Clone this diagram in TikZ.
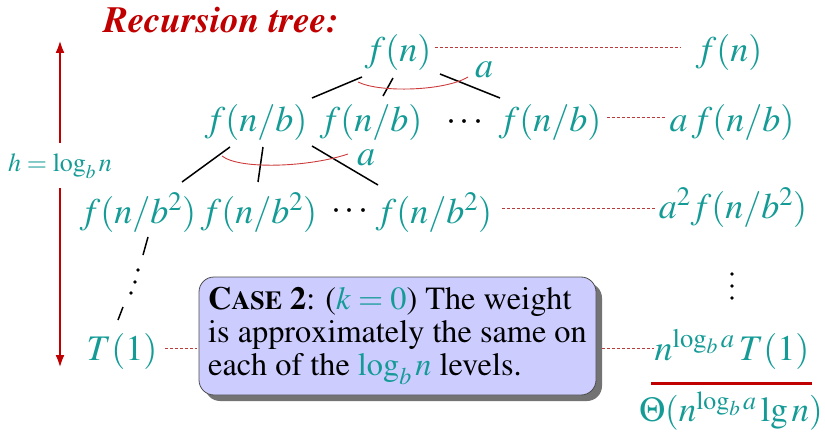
\documentclass[tikz,border=0pt]{standalone}
\usepackage[T1]{fontenc}
\usepackage{mathptmx}
\usetikzlibrary{arrows.meta,shadows,calc}
\definecolor{tl}{RGB}{20,155,150}
\definecolor{dred}{RGB}{192,0,0}
\definecolor{dsh}{RGB}{185,60,60}
\definecolor{arcred}{RGB}{205,60,60}
\definecolor{boxfill}{RGB}{204,204,255}
\newcommand\fnb{$f(n/b)$}
\newcommand\fnbb{$f(n/b^2)$}
\begin{document}
\begin{tikzpicture}[x=1pt,y=-1pt,
  mth/.style={text=tl, font=\fontsize{36}{40}\selectfont, inner sep=0pt},
  dots/.style={font=\fontsize{36}{40}\selectfont, inner sep=0pt},
  edge/.style={black, line width=1.5pt},
  arcline/.style={arcred, line width=0.9pt},
  dline/.style={dsh, line width=0.8pt, dash pattern=on 3pt off 2pt},
  harrow/.style={dred, line width=2.8pt, -{Latex[length=13pt,width=9pt]}},
  casebox/.style={draw=black!70, line width=0.8pt, fill=boxfill, rounded corners=15pt,
    minimum width=397pt, minimum height=118pt, inner sep=0pt,
    align=left, font=\fontsize{32.3}{33}\selectfont,
    drop shadow={shadow xshift=6pt, shadow yshift=-6pt, fill=black!55, opacity=1}},
]
\useasboundingbox (0,0) rectangle (825,433);

% title
\node[text=dred, font=\fontsize{37}{40}\selectfont\bfseries\itshape, anchor=base] (title) at (221,33) {Recursion tree:};

% height arrow
\node[text=tl, font=\fontsize{26}{28}\selectfont, inner sep=0pt] (h) at (60,166) {$h = \log_b n$};
\coordinate (htop) at (60,40);
\coordinate (hbot) at (60,368);
\draw[harrow] ($(h)+(0,-23)$) -- (htop);
\draw[harrow] ($(h)+(0,22)$) -- (hbot);

% level 0
\node[mth] (fn) at (398,53) {$f(n)$};
\node[mth] (rfn) at (729,53) {$f(n)$};
\draw[dline] ($(fn.east)+(3,-6)$) -- ($(rfn.west)+(-15,-6)$);

% level 1
\node[mth] (n1a) at (256,123) {\fnb};
\node[mth] (n1b) at (371,123) {\fnb};
\node[dots] (d1) at (465,123) {$\cdots$};
\node[mth] (n1c) at (550,123) {\fnb};
\node[mth] (af) at (732,123) {$a\,f(n/b)$};
\draw[dline] ($(n1c.east)+(5,-6)$) -- ($(af.west)+(-4,-6)$);

\draw[edge] ($(fn)+(-36,24)$) -- ($(n1a)+(56,-25)$);
\draw[edge] ($(fn)+(-5,25)$) -- ($(n1b)+(12,-27)$);
\draw[edge] ($(fn)+(42,21)$) -- ($(n1c)+(-50,-25)$);
\draw[arcline] (358,82) .. controls (380,93) and (445,91) .. (468,77);
\node[mth] (a1) at (484,70) {$a$};

% level 2
\node[mth] (n2a) at (138,213) {\fnbb};
\node[mth] (n2b) at (259,213) {\fnbb};
\node[dots] (d2) at (350,212) {$\cdots$};
\node[mth] (n2c) at (434,213) {\fnbb};
\node[mth] (a2f) at (733,208) {$a^2f(n/b^2)$};
\draw[dline] ($(n2c.east)+(10,-5)$) -- ($(a2f.west)+(-4,0)$);

\draw[edge] ($(n1a)+(-26,24)$) -- ($(n2a)+(44,-31)$);
\draw[edge] ($(n1a)+(7,24)$) -- ($(n2b)+(-1,-31)$);
\draw[edge] ($(n1a)+(56,23)$) -- ($(n2c)+(-56,-28)$);
\draw[arcline] (222,156) .. controls (240,170) and (310,167) .. (348,154);
\node[mth] (a2) at (366,158) {$a$};

% down to leaves
\node[mth] (T1) at (122,351) {$T(1)$};
\draw[edge] ($(n2a)+(10,24)$) -- ($(n2a)+(5,42)$);
\fill (138,270) circle (1.8pt);
\fill (135,282) circle (1.8pt);
\fill (131,293) circle (1.8pt);
\draw[edge] ($(T1)+(1,-44)$) -- ($(T1)+(-4,-31)$);

% right vertical dots
\fill (732,274) circle (1.8pt);
\fill (732,286) circle (1.8pt);
\fill (732,298) circle (1.8pt);

% case box
\node[casebox] (case) at (397.5,336) {{\bfseries C{\fontsize{26}{26}\selectfont ASE} 2}: (\textcolor{tl}{$k=0$}) The weight\\
is approximately the same on\\
each of the \textcolor{tl}{$\log_b n$} levels.};

\node[mth] (nT) at (732,349) {$n^{\log_b a}\,T(1)$};
\draw[dline] ($(T1.east)+(8,-3)$) -- ($(case.west)+(-2,12)$);
\draw[dline] ($(case.east)+(6,12)$) -- ($(nT.west)+(0,-1)$);

\draw[dred, line width=3pt] (651,383) -- (812,383);
\node[mth, font=\fontsize{35}{40}\selectfont] (theta) at (731,411) {$\Theta(n^{\log_b a}\lg n)$};
\end{tikzpicture}
\end{document}
